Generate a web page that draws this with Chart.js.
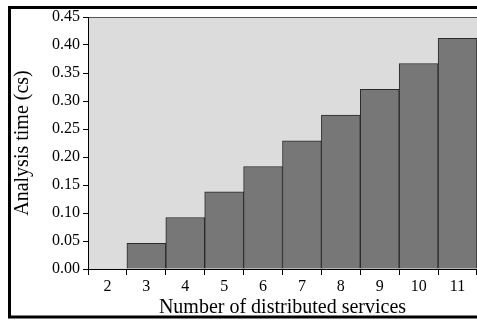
<!DOCTYPE html>
<html>
<head>
<meta charset="utf-8">
<script src="https://cdn.jsdelivr.net/npm/chart.js@4"></script>
<style>
  html, body { margin: 0; padding: 0; background: #fff; }
  #wrap { width: 477px; height: 320px; position: relative; }
</style>
</head>
<body>
<div id="wrap"><canvas id="myChart" width="477" height="320"></canvas></div>
<script>
// number of distributed services
let services = ["2", "3", "4", "5", "6", "7", "8", "9", "10", "11"];
// analysis time in cs
let times = [0, 0.046, 0.092, 0.138, 0.183, 0.229, 0.275, 0.321, 0.367, 0.412];
let yTicks = [0, 0.05, 0.10, 0.15, 0.20, 0.25, 0.30, 0.35, 0.40, 0.45];

let serif = "'Liberation Serif', 'Times New Roman', serif";

// grey plot area + the black frame round the picture
let backdrop = {
  id: "backdrop",
  beforeDraw(chart) {
    let c = chart.ctx;
    let a = chart.chartArea;
    c.save();
    c.fillStyle = "#dcdcdc";
    c.fillRect(a.left, a.top, a.right - a.left, a.bottom - a.top);
    c.strokeStyle = "#555";
    c.lineWidth = 1;
    c.beginPath();
    c.moveTo(a.left, a.top + 0.5);
    c.lineTo(a.right, a.top + 0.5);
    c.stroke();
    c.restore();
  },
  afterDraw(chart) {
    let c = chart.ctx;
    c.save();
    c.strokeStyle = "#000";
    c.lineWidth = 3;
    c.beginPath();
    c.moveTo(chart.width + 2, 7.5);
    c.lineTo(9.5, 7.5);
    c.lineTo(9.5, 317);
    c.lineTo(chart.width + 2, 317);
    c.stroke();
    c.restore();
  }
};

let ch = new Chart("myChart", {
  type: "bar",
  data: {
    labels: services,
    datasets: [
      {
        label: "Analysis time",
        data: times,
        backgroundColor: "#777777",
        borderColor: "#2a2a2a",
        borderWidth: 1,
        categoryPercentage: 1,
        barPercentage: 1,
      },
    ],
  },
  options: {
    responsive: false,
    animation: false,
    layout: { padding: { top: 17, right: 0, bottom: 0, left: 11 } },
    plugins: { legend: { display: false }, tooltip: { enabled: false } },
    scales: {
      x: {
        offset: true,
        grid: { offset: true, drawOnChartArea: false, tickLength: 6, color: "#000" },
        border: { color: "#000", width: 1 },
        ticks: { color: "#000", font: { family: serif, size: 16 }, padding: 2, maxRotation: 0 },
        title: {
          display: true,
          text: "Number of distributed services",
          color: "#000",
          font: { family: serif, size: 20 },
          padding: { top: 0, bottom: 0 },
        },
        afterFit(s) { s.height = 51; },
      },
      y: {
        min: 0,
        max: 0.45,
        afterBuildTicks(s) { s.ticks = yTicks.map(v => ({ value: v })); },
        grid: { drawOnChartArea: false, tickLength: 5, color: "#000" },
        border: { color: "#000", width: 1 },
        ticks: {
          color: "#000",
          font: { family: serif, size: 16 },
          padding: 3,
          callback: v => v.toFixed(2),
        },
        title: {
          display: true,
          text: "Analysis time (cs)",
          color: "#000",
          font: { family: serif, size: 20 },
          padding: { top: 0, bottom: 6 },
        },
        afterFit(s) { s.width = 77; },
      },
    },
  },
  plugins: [backdrop],
});
</script>
</body>
</html>
